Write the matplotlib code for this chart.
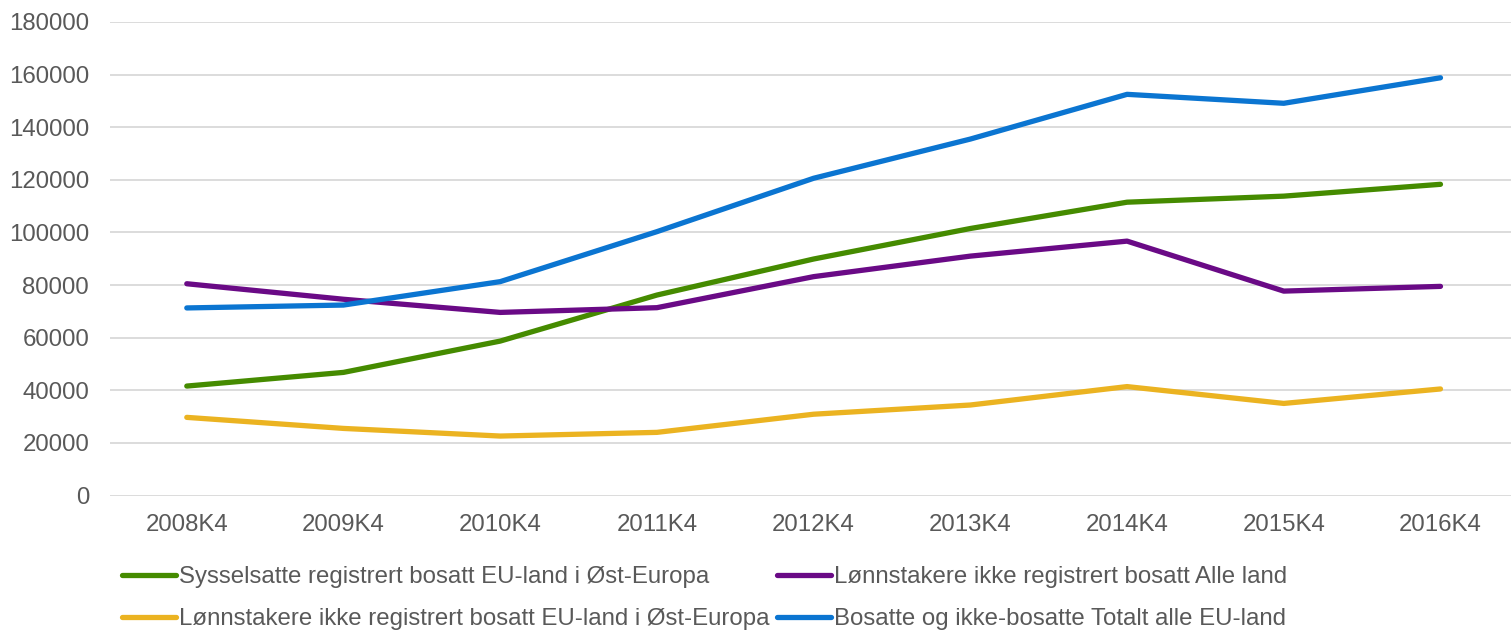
#!/usr/bin/env python3

from matplotlib import pyplot as plt

plt.rcParams['font.family'] = ['Liberation Sans', 'DejaVu Sans']

# quarters on x axis
quarters = ['2008K4', '2009K4', '2010K4', '2011K4', '2012K4',
            '2013K4', '2014K4', '2015K4', '2016K4']

# series values
sysselsatte_ost = [41600, 46800, 58700, 76200, 89900, 101500, 111500, 113800, 118300]
lonn_alle = [80500, 74600, 69600, 71400, 83200, 91000, 96700, 77700, 79500]
lonn_ost = [29700, 25500, 22600, 24000, 30900, 34400, 41400, 35000, 40500]
bosatte_totalt = [71300, 72400, 81300, 100300, 120600, 135500, 152500, 149100, 158800]

labels = ['Sysselsatte registrert bosatt EU-land i Øst-Europa',
          'Lønnstakere ikke registrert bosatt Alle land',
          'Lønnstakere ikke registrert bosatt EU-land i Øst-Europa',
          'Bosatte og ikke-bosatte Totalt alle EU-land']
colors = ['#458B00', '#6A0A86', '#EBB321', '#0B75D1']

fig = plt.figure(figsize=(15.11, 6.31), dpi=100)
ax = fig.add_axes([110 / 1511, 1 - 495.5 / 631, 1401 / 1511, 473.5 / 631])

x = list(range(len(quarters)))
series = [sysselsatte_ost, lonn_alle, lonn_ost, bosatte_totalt]
for vals, lab, col in zip(series, labels, colors):
    ax.plot(x, vals, color=col, lw=3.8, label=lab, solid_capstyle='round',
            solid_joinstyle='round')

ax.set_xlim(-0.49, 8.45)
ax.set_ylim(0, 180000)
ax.set_yticks(range(0, 180001, 20000))
ax.set_xticks(x)
ax.set_xticklabels(quarters)
ax.grid(axis='y', color='#D9D9D9', lw=1.3)
ax.set_axisbelow(True)
for s in ax.spines.values():
    s.set_visible(False)
ax.tick_params(length=0, labelsize=17.3, colors='#595959')
ax.tick_params(axis='y', pad=15)
ax.tick_params(axis='x', pad=13.5)

# legend in two columns below the plot (order: row by row)
h, l = ax.get_legend_handles_labels()
order = [0, 2, 1, 3]
fig.legend([h[i] for i in order], [l[i] for i in order], ncol=2,
           loc='upper left', bbox_to_anchor=(122 / 1511, 1 - 566 / 631),
           frameon=False, fontsize=17.3, handlelength=2.25, handletextpad=0.12,
           columnspacing=0.3, labelspacing=0.85, borderpad=0, borderaxespad=0,
           labelcolor='#595959')

plt.savefig('out.png', dpi=100)
